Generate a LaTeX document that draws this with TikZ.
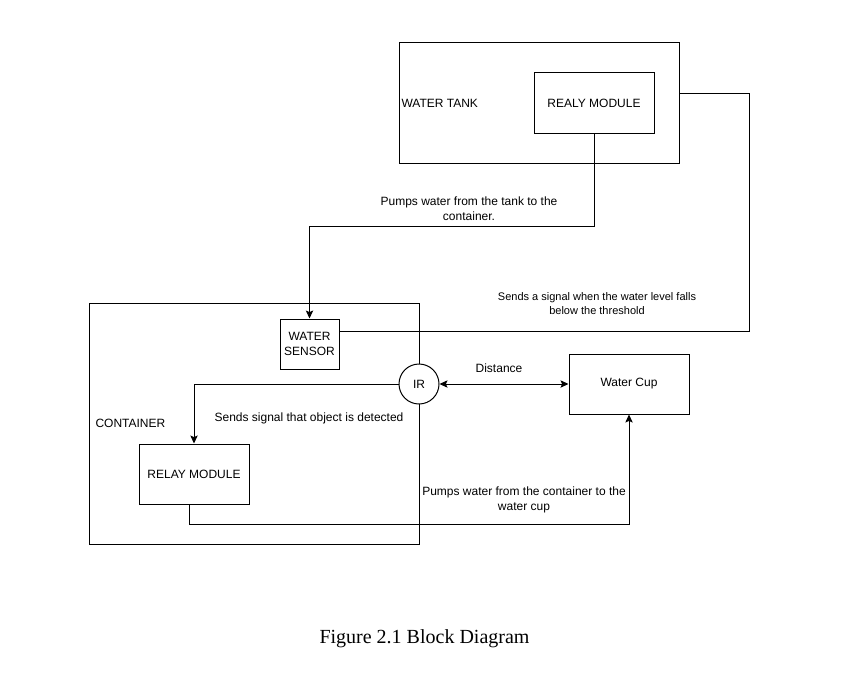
\documentclass[tikz,border=0pt]{standalone}
\usepackage{fontspec}
\setmainfont{Liberation Sans}
\newfontfamily\capfont{Liberation Serif}
\usetikzlibrary{arrows.meta}
\begin{document}
\begin{tikzpicture}[x=0.75pt,y=-0.75pt,
  line width=0.75pt,
  box/.style={draw,rectangle,inner sep=0pt,font=\fontsize{9}{11.25}\selectfont,align=center},
  lbl/.style={font=\fontsize{9}{11.25}\selectfont,align=center,inner sep=0pt},
  tip/.style={-{Stealth[length=6pt,width=5.5pt,inset=1.2pt]}},
  bitip/.style={{Stealth[length=6pt,width=5.5pt,inset=1.2pt]}-{Stealth[length=6pt,width=5.5pt,inset=1.2pt]}}]
\useasboundingbox (0,0) rectangle (845,674);

% outer enclosures
\node[box,minimum width=280*0.75pt,minimum height=120*0.75pt] (tank) at (539,103) {};
\node[lbl,anchor=west] (tanklbl) at (401,103) {WATER TANK};
\node[box,minimum width=330*0.75pt,minimum height=241*0.75pt] (cont) at (254,423.5) {};
\node[lbl,anchor=west] (contlbl) at (95,423) {CONTAINER};

% blocks
\node[box,minimum width=120*0.75pt,minimum height=60*0.75pt] (relaytop) at (594,103) {REALY MODULE};
\node[box,minimum width=59*0.75pt,minimum height=50*0.75pt] (sensor) at (309.5,344) {WATER\\SENSOR};
\node[box,circle,fill=white,minimum size=40*0.75pt] (ir) at (419,384) {IR};
\node[box,minimum width=110*0.75pt,minimum height=60*0.75pt] (relay) at (194,474) {RELAY MODULE};
\node[box,minimum width=120*0.75pt,minimum height=60*0.75pt] (cup) at (629,384) {Water Cup};

% connectors
\draw[tip] (relaytop.south) -- (594,226) -| (sensor.north);
\coordinate (tankright) at (tank.east |- 0,93);
\draw (tankright) -- (749,93) |- (sensor.east |- 0,331);
\draw[tip] (ir.west) -| (relay.north);
\draw[bitip] (ir.east) -- (cup.west);
\coordinate (relayout) at (189,504);
\draw[tip] (relayout) -- (189,524) -| (cup.south);

% labels on connectors
\node[lbl] (l1) at (469,208.5) {Pumps water from the tank to the\\container.};
\node[lbl,font=\fontsize{8.25}{10.5}\selectfont] (l2) at (597,304) {Sends a signal when the water level falls\\below the threshold};
\node[lbl] (l3) at (309,418) {Sends signal that object is detected};
\node[lbl] (l4) at (499,368) {Distance};
\node[lbl] (l5) at (524,499.5) {Pumps water from the container to the\\water cup};

% caption
\node[inner sep=0pt,anchor=base,font=\capfont\fontsize{15}{18}\selectfont] (cap) at (424.5,643) {Figure 2.1 Block Diagram};
\end{tikzpicture}
\end{document}
